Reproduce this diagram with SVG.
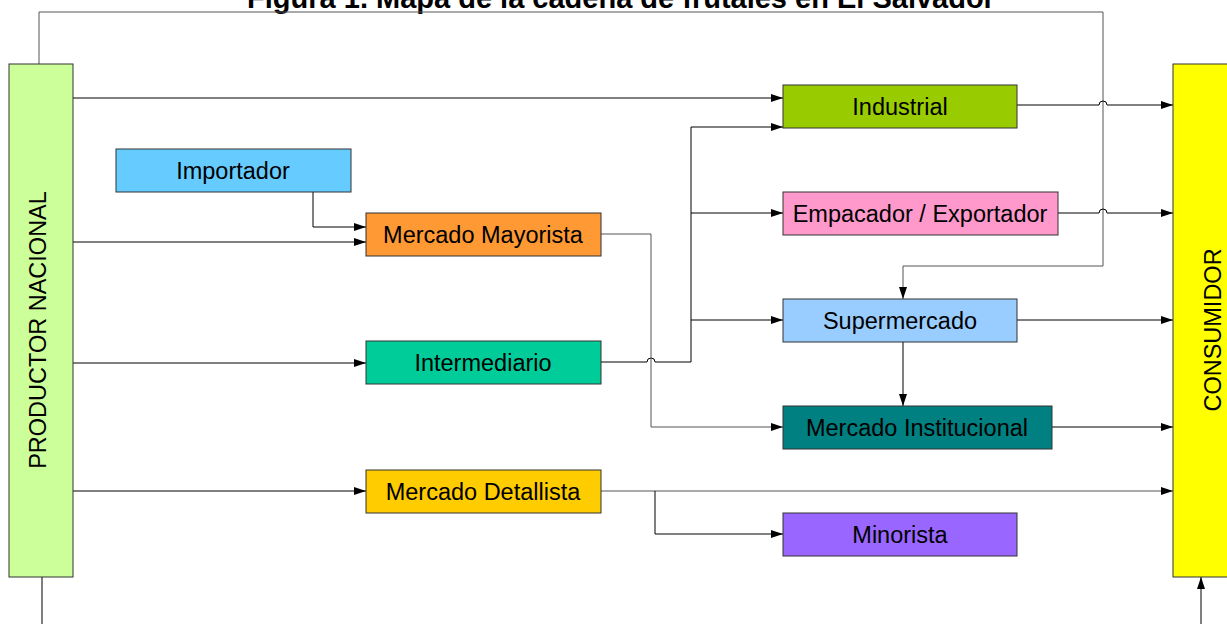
<svg xmlns="http://www.w3.org/2000/svg" width="1227" height="624" viewBox="0 0 1227 624">
<style>
.box{stroke:#333;stroke-width:1}
.t{font-family:"Liberation Sans",Arial,sans-serif;font-size:23.5px;fill:#000;text-anchor:middle;dominant-baseline:central}
.c{fill:none;stroke:#000;stroke-width:1}
.g{stroke:#555}
.title{font-family:"Liberation Sans",Arial,sans-serif;font-size:29px;font-weight:bold;text-anchor:middle}
</style>
<defs>
<marker id="a" viewBox="0 0 12 8" refX="12" refY="4" markerWidth="12" markerHeight="8" markerUnits="userSpaceOnUse" orient="auto">
<path d="M0,0 L12,4 L0,8 Z" fill="#000"/>
</marker>
</defs>
<rect width="1227" height="624" fill="#fff"/>
<text class="title" x="621" y="8">Figura 1. Mapa de la cadena de frutales en El Salvador</text>
<g id="connectors">
<path class="c g" d="M39,64 V12 H1103 V266 H903 V299" marker-end="url(#a)"/>
<path class="c" d="M73,98 H783" marker-end="url(#a)"/>
<path class="c" d="M1017,105 H1099 A4,4 0 0 1 1107,105 H1173" marker-end="url(#a)"/>
<path class="c" d="M1058,213 H1099 A4,4 0 0 1 1107,213 H1173" marker-end="url(#a)"/>
<path class="c" d="M313,192 V227 H366" marker-end="url(#a)"/>
<path class="c" d="M73,242 H366" marker-end="url(#a)"/>
<path class="c" d="M73,363 H366" marker-end="url(#a)"/>
<path class="c" d="M73,491 H366" marker-end="url(#a)"/>
<path class="c" d="M601,362 H647 A4,4 0 0 1 655,362 H691 V127 H783" marker-end="url(#a)"/>
<path class="c" d="M691,213 H783" marker-end="url(#a)"/>
<path class="c" d="M691,320 H783" marker-end="url(#a)"/>
<path class="c g" d="M601,234 H651 V427 H783" marker-end="url(#a)"/>
<path class="c" d="M1017,320 H1173" marker-end="url(#a)"/>
<path class="c" d="M903,342 V406" marker-end="url(#a)"/>
<path class="c" d="M1052,427 H1173" marker-end="url(#a)"/>
<path class="c g" d="M601,491 H1173" marker-end="url(#a)"/>
<path class="c" d="M655,491 V534 H783" marker-end="url(#a)"/>
<path class="c" d="M42,577 V624"/>
<path class="c" d="M1201,624 V577" marker-end="url(#a)"/>
</g>
<g id="productor">
<rect class="box" x="9" y="64" width="64" height="513" fill="#CCFF99"/>
<text class="t" transform="translate(38,330) rotate(-90)">PRODUCTOR NACIONAL</text>
</g>
<g id="consumidor">
<rect class="box" x="1173" y="64" width="60" height="513" fill="#FFFF00"/>
<text class="t" transform="translate(1213,330) rotate(-90)">CONSUMIDOR</text>
</g>
<g id="importador">
<rect class="box" x="116" y="149" width="235" height="43" fill="#66CCFF"/>
<text class="t" x="233" y="171">Importador</text>
</g>
<g id="mayorista">
<rect class="box" x="366" y="213" width="235" height="43" fill="#FF9933"/>
<text class="t" x="483" y="235">Mercado Mayorista</text>
</g>
<g id="intermediario">
<rect class="box" x="366" y="341" width="235" height="43" fill="#00CC99"/>
<text class="t" x="483" y="363">Intermediario</text>
</g>
<g id="detallista">
<rect class="box" x="366" y="470" width="235" height="43" fill="#FFCC00"/>
<text class="t" x="483" y="492">Mercado Detallista</text>
</g>
<g id="industrial">
<rect class="box" x="783" y="85" width="234" height="43" fill="#99CC00"/>
<text class="t" x="900" y="107">Industrial</text>
</g>
<g id="empacador">
<rect class="box" x="783" y="192" width="275" height="43" fill="#FF99CC"/>
<text class="t" x="920" y="214">Empacador / Exportador</text>
</g>
<g id="supermercado">
<rect class="box" x="783" y="299" width="234" height="43" fill="#99CCFF"/>
<text class="t" x="900" y="321">Supermercado</text>
</g>
<g id="institucional">
<rect class="box" x="783" y="406" width="269" height="43" fill="#008080"/>
<text class="t" x="917" y="428">Mercado Institucional</text>
</g>
<g id="minorista">
<rect class="box" x="783" y="513" width="234" height="43" fill="#9966FF"/>
<text class="t" x="900" y="535">Minorista</text>
</g>
</svg>
